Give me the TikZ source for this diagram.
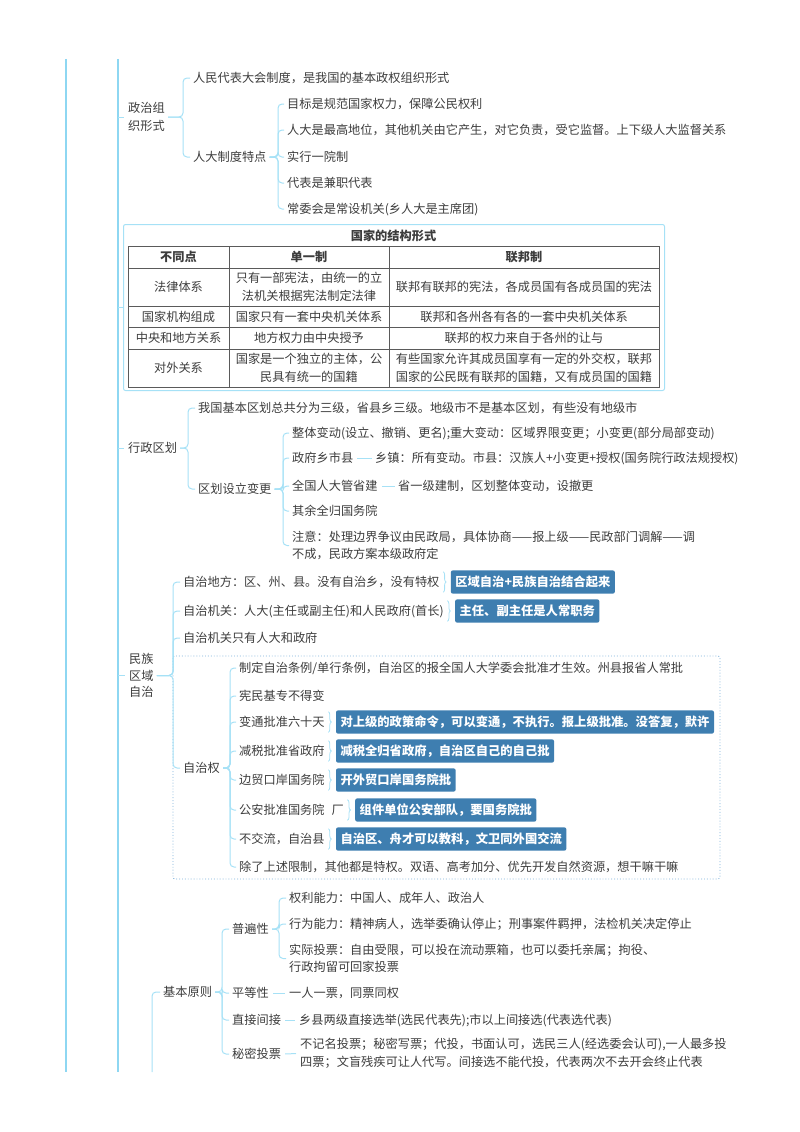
\documentclass[tikz,border=0pt]{standalone}
\usepackage{fontspec}
\setmainfont{Noto Sans CJK SC}
\usetikzlibrary{positioning,calc,decorations.pathreplacing}
\definecolor{linec}{HTML}{A6E1F6}
\definecolor{spinec}{HTML}{8ED7F2}
\definecolor{txtc}{HTML}{3C3C3C}
\definecolor{boxc}{HTML}{3E7EB0}
\definecolor{dotc}{HTML}{7DB0DA}
\definecolor{gridc}{HTML}{5A5A5A}
\begin{document}
\begin{tikzpicture}[
  x=1pt, y=-1pt,
  item/.style={anchor=west, inner sep=0pt, text=txtc, align=left,
    font=\fontsize{12.2}{17.5}\selectfont, text height=10.7pt, text depth=1.5pt},
  itemm/.style={item, text height={}, text depth={}},
  note/.style={fill=boxc, text=white, rounded corners=2pt, inner xsep=4.5pt,
    inner ysep=5.5pt, font=\fontsize{12.3}{15}\selectfont\bfseries,
    text height=10.7pt, text depth=1.5pt},
  cell/.style={inner sep=0pt, text=txtc, align=center,
    font=\fontsize{12.2}{18}\selectfont, text height=10.7pt, text depth=1.5pt},
  cellm/.style={cell, text height={}, text depth={}},
  conn/.style={draw=linec, line width=1pt, rounded corners=4pt},
  spine/.style={draw=spinec, line width=#1},
  brc/.style={draw=linec, line width=0.8pt, decorate,
    decoration={brace, amplitude=3pt}},
  gridline/.style={draw=gridc, line width=0.6pt},
  tabframe/.style={draw=linec, line width=1pt, rounded corners=2pt, inner sep=0pt},
  dotframe/.style={draw=dotc, line width=0.9pt, dotted, rounded corners=2pt}
]
\useasboundingbox (0,0) rectangle (800,1132);

\coordinate (s1t) at (66,59);
\coordinate (s1b) at (66,1072);
\coordinate (s2t) at (118,59);
\coordinate (s2b) at (118,1072);
\coordinate (s3b) at (152,1072);
\draw[spine=2.2pt] (s1t) -- (s1b);
\draw[spine=1.4pt] (s2t) -- (s2b);

% 政治组织形式
\node[itemm] (zz) at (128,117) {政治组\\织形式};
\node[item] (rd) at (193,78) {人民代表大会制度，是我国的基本政权组织形式};
\node[item] (rdt) at (193,157) {人大制度特点};
\node[item] (t1) at (287,104) {目标是规范国家权力，保障公民权利};
\node[item] (t2) at (287,130) {人大是最高地位，其他机关由它产生，对它负责，受它监督。上下级人大监督关系};
\node[item] (t3) at (287,157) {实行一院制};
\node[item] (t4) at (287,183) {代表是兼职代表};
\node[item] (t5) at (287,209) {常委会是常设机关(乡人大是主席团)};
\draw[conn, shorten >=4pt] (zz.west -| s2t) -- (zz.west);
\foreach \c in {rd,rdt}
  \draw[conn, shorten <=3pt, shorten >=3pt] (zz.east) -- ($(zz.east -| \c.west)+(-10,0)$) |- (\c.west);
\foreach \c in {t1,t2,t3,t4,t5}
  \draw[conn, shorten <=3pt, shorten >=3pt] (rdt.east) -- ($(rdt.east -| \c.west)+(-9,0)$) |- (\c.west);

% 国家的结构形式
\node[tabframe, anchor=north west, minimum width=541pt, minimum height=166pt] (tb) at (123,224) {};
\draw[conn] (tb.west -| s2t) -- (tb.west);
\node[cell] (tt) at (393.5,236) {\bfseries 国家的结构形式};
\draw[gridline] (128,246) rectangle (659,387);
\foreach \y in {268,306,327,349} \draw[gridline] (128,\y) -- (659,\y);
\foreach \x in {229,389} \draw[gridline] (\x,246) -- (\x,387);
\node[cell] (h1) at (178.5,257) {\bfseries 不同点};
\node[cell] (h2) at (309,257) {\bfseries 单一制};
\node[cell] (h3) at (524,257) {\bfseries 联邦制};
\node[cell] (a1) at (178.5,287) {法律体系};
\node[cellm] (a2) at (309,287) {只有一部宪法，由统一的立\\法机关根据宪法制定法律};
\node[cell] (a3) at (524,287) {联邦有联邦的宪法，各成员国有各成员国的宪法};
\node[cell] (b1) at (178.5,316.5) {国家机构组成};
\node[cell] (b2) at (309,316.5) {国家只有一套中央机关体系};
\node[cell] (b3) at (524,316.5) {联邦和各州各有各的一套中央机关体系};
\node[cell] (c1) at (178.5,338) {中央和地方关系};
\node[cell] (c2) at (309,338) {地方权力由中央授予};
\node[cell] (c3) at (524,338) {联邦的权力来自于各州的让与};
\node[cell] (d1) at (178.5,368) {对外关系};
\node[cellm] (d2) at (309,368) {国家是一个独立的主体，公\\民具有统一的国籍};
\node[cellm] (d3) at (524,368) {有些国家允许其成员国享有一定的外交权，联邦\\国家的公民既有联邦的国籍，又有成员国的国籍};

% 行政区划
\node[item] (xz) at (128,448) {行政区划};
\node[item] (xz1) at (198,408) {我国基本区划总共分为三级，省县乡三级。地级市不是基本区划，有些没有地级市};
\node[item] (xz2) at (198,489) {区划设立变更};
\node[item] (g1) at (292,433) {整体变动(设立、撤销、更名);重大变动：区域界限变更；小变更(部分局部变动)};
\node[item] (g2) at (292,458) {政府乡市县};
\node[item] (g2a) at (375,458) {乡镇：所有变动。市县：汉族人+小变更+授权(国务院行政法规授权)};
\node[item] (g3) at (292,486) {全国人大管省建};
\node[item] (g3a) at (398,486) {省一级建制，区划整体变动，设撤更};
\node[item] (g4) at (292,511) {其余全归国务院};
\node[itemm] (g5) at (292,545.5) {注意：处理边界争议由民政局，具体协商——报上级——民政部门调解——调\\不成，民政方案本级政府定};
\draw[conn, shorten >=4pt] (xz.west -| s2t) -- (xz.west);
\foreach \c in {xz1,xz2}
  \draw[conn, shorten <=3pt, shorten >=3pt] (xz.east) -- ($(xz.east -| \c.west)+(-10,0)$) |- (\c.west);
\foreach \c in {g1,g2,g3,g4,g5}
  \draw[conn, shorten <=3pt, shorten >=3pt] (xz2.east) -- ($(xz2.east -| \c.west)+(-9,0)$) |- (\c.west);
\draw[conn, shorten <=4pt, shorten >=3pt] (g2.east) -- (g2a.west);
\draw[conn, shorten <=4pt, shorten >=3pt] (g3.east) -- (g3a.west);

% 民族区域自治
\node[itemm, font=\fontsize{12.2}{16.5}\selectfont] (mz) at (129,675.5) {民族\\区域\\自治};
\node[item] (m1) at (183,582) {自治地方：区、州、县。没有自治乡，没有特权};
\node[item] (m2) at (183,611) {自治机关：人大(主任或副主任)和人民政府(首长)};
\node[item] (m3) at (183,638) {自治机关只有人大和政府};
\node[item] (zq) at (183,768) {自治权};
\node[note, right=11pt of m1] (m1n) {区域自治+民族自治结合起来};
\node[note, right=11pt of m2] (m2n) {主任、副主任是人常职务};
\draw[dotframe] (173,656) rectangle (720,879);
\node[item] (q1) at (239,668) {制定自治条例/单行条例，自治区的报全国人大学委会批准才生效。州县报省人常批};
\node[item] (q2) at (239,696) {宪民基专不得变};
\node[item] (q3) at (239,722) {变通批准六十天};
\node[item] (q4) at (239,751) {减税批准省政府};
\node[item] (q5) at (239,780) {边贸口岸国务院};
\node[item] (q6) at (239,810) {公安批准国务院\hspace{7pt}厂};
\node[item] (q7) at (239,839) {不交流，自治县};
\node[item] (q8) at (239,867) {除了上述限制，其他都是特权。双语、高考加分、优先开发自然资源，想干嘛干嘛};
\node[note, right=11pt of q3] (q3n) {对上级的政策命令，可以变通，不执行。报上级批准。没答复，默许};
\node[note, right=11pt of q4] (q4n) {减税全归省政府，自治区自己的自己批};
\node[note, right=11pt of q5] (q5n) {开外贸口岸国务院批};
\node[note, right=11pt of q6] (q6n) {组件单位公安部队，要国务院批};
\node[note, right=11pt of q7] (q7n) {自治区、舟才可以教科，文卫同外国交流};
\draw[conn, shorten >=4pt] (mz.west -| s2t) -- (mz.west);
\foreach \c in {m1,m2,m3,zq}
  \draw[conn, shorten <=3pt, shorten >=3pt] (mz.east) -- ($(mz.east -| \c.west)+(-10,0)$) |- (\c.west);
\foreach \c in {q1,q2,q3,q4,q5,q6,q7,q8}
  \draw[conn, shorten <=3pt, shorten >=3pt] (zq.east) -- ($(zq.east -| \c.west)+(-9,0)$) |- (\c.west);
\foreach \c in {m1,m2,q3,q4,q5,q6,q7}
  \draw[brc] ($(\c.east |- \c n.north)+(3.5,1.5)$) -- ($(\c.east |- \c n.south)+(3.5,-1.5)$);

% 基本原则
\node[item] (jb) at (163,992) {基本原则};
\node[item] (p1) at (232,929) {普遍性};
\node[item] (p2) at (232,993) {平等性};
\node[item] (p3) at (232,1020) {直接间接};
\node[item] (p4) at (232,1054) {秘密投票};
\node[item] (u1) at (289,898) {权利能力：中国人、成年人、政治人};
\node[item] (u2) at (289,924) {行为能力：精神病人，选举委确认停止；刑事案件羁押，法检机关决定停止};
\node[itemm] (u3) at (289,958.5) {实际投票：自由受限，可以投在流动票箱，也可以委托亲属；拘役、\\行政拘留可回家投票};
\node[item] (p2a) at (289,993) {一人一票，同票同权};
\node[item] (p3a) at (299,1020) {乡县两级直接选举(选民代表先);市以上间接选(代表选代表)};
\node[itemm] (p4a) at (300,1053.5) {不记名投票；秘密写票；代投，书面认可，选民三人(经选委会认可),一人最多投\\四票；文盲残疾可让人代写。间接选不能代投，代表两次不去开会终止代表};
\draw[conn, shorten >=3pt] (s3b) |- (jb.west);
\foreach \c in {p1,p2,p3,p4}
  \draw[conn, shorten <=3pt, shorten >=3pt] (jb.east) -- ($(jb.east -| \c.west)+(-10,0)$) |- (\c.west);
\foreach \c in {u1,u2,u3}
  \draw[conn, shorten <=3pt, shorten >=3pt] (p1.east) -- ($(p1.east -| \c.west)+(-10,0)$) |- (\c.west);
\draw[conn, shorten <=4pt, shorten >=4pt] (p2.east) -- (p2a.west);
\draw[conn, shorten <=4pt, shorten >=4pt] (p3.east) -- (p3a.west);
\draw[conn, shorten <=4pt, shorten >=4pt] (p4.east) -- (p4a.west);
\end{tikzpicture}
\end{document}
